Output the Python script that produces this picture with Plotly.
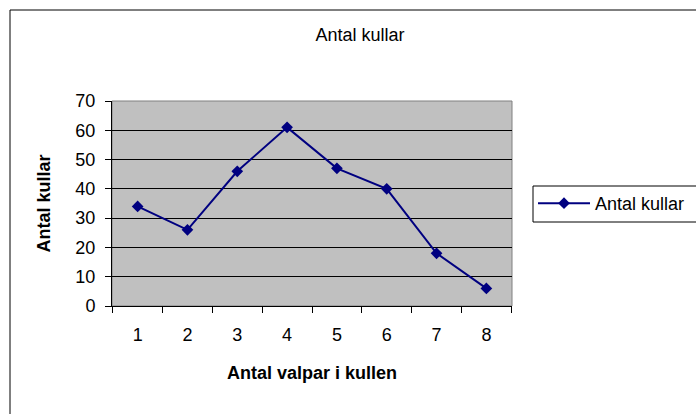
import plotly.graph_objects as go

categories = ["1", "2", "3", "4", "5", "6", "7", "8"]
antal_kullar = [34, 26, 46, 61, 47, 40, 18, 6]
y_ticks = [0, 10, 20, 30, 40, 50, 60, 70]

title_text = "Antal kullar"
x_title = "Antal valpar i kullen"
y_title = "Antal kullar"
series_name = "Antal kullar"

FONT = "Liberation Sans, Arial, sans-serif"
NAVY = "#000080"

W, H = 696, 414
L, R, T, B = 112, 184, 101, 108
pw, ph = W - L - R, H - T - B


def px_x(x):
    return (x - L) / pw


def px_y(y):
    return (H - B - y) / ph


fig = go.Figure()
fig.add_trace(go.Scatter(
    x=categories, y=antal_kullar, name=series_name,
    mode="lines+markers",
    line=dict(color=NAVY, width=2),
    marker=dict(symbol="diamond", size=9, color=NAVY),
))

fig.update_layout(
    width=W, height=H,
    margin=dict(l=L, r=R, t=T, b=B, autoexpand=False),
    paper_bgcolor="white",
    plot_bgcolor="#C0C0C0",
    font=dict(family=FONT, size=18, color="black"),
    title=dict(text=title_text, x=px_x(360), xref="paper", xanchor="center",
               y=1 - 35 / H, yref="container", yanchor="middle",
               font=dict(family=FONT, size=18, color="black")),
    showlegend=True,
    legend=dict(x=px_x(533), xanchor="left", y=0.5, yanchor="middle",
                bgcolor="rgba(0,0,0,0)", borderwidth=0,
                itemwidth=52,
                font=dict(family=FONT, size=18, color="black")),
    xaxis=dict(
        type="category", tickson="boundaries",
        ticks="outside", ticklen=6, tickcolor="black", tickwidth=1,
        showline=True, linecolor="black", linewidth=1,
        showgrid=False, zeroline=False,
        ticklabelstandoff=12,
        title=dict(text=x_title, standoff=22,
                   font=dict(family=FONT, size=18, color="black", weight="bold")),
        automargin=False,
    ),
    yaxis=dict(
        range=[0, 70], tickvals=y_ticks,
        ticks="outside", ticklen=6, tickcolor="black", tickwidth=1,
        showline=True, linecolor="black", linewidth=1,
        showgrid=True, gridcolor="black", gridwidth=1,
        zeroline=False,
        ticklabelstandoff=6,
        title=dict(text=y_title, standoff=20,
                   font=dict(family=FONT, size=18, color="black", weight="bold")),
        automargin=False,
    ),
    shapes=[
        dict(type="rect", xref="paper", yref="paper",
             x0=0, x1=1, y0=0, y1=1,
             line=dict(color="#808080", width=1), layer="below"),
        dict(type="rect", xref="paper", yref="paper",
             x0=px_x(10), x1=px_x(720), y0=px_y(430), y1=px_y(10),
             line=dict(color="black", width=1), fillcolor="rgba(0,0,0,0)",
             layer="above"),
        dict(type="rect", xref="paper", yref="paper",
             x0=px_x(533), x1=px_x(720), y0=px_y(222), y1=px_y(186),
             line=dict(color="black", width=1), fillcolor="white",
             layer="above"),
    ],
)

fig.write_html("out.html",
               config={"displayModeBar": False},
               post_script="document.body.style.margin='0';document.body.style.overflow='hidden';")
